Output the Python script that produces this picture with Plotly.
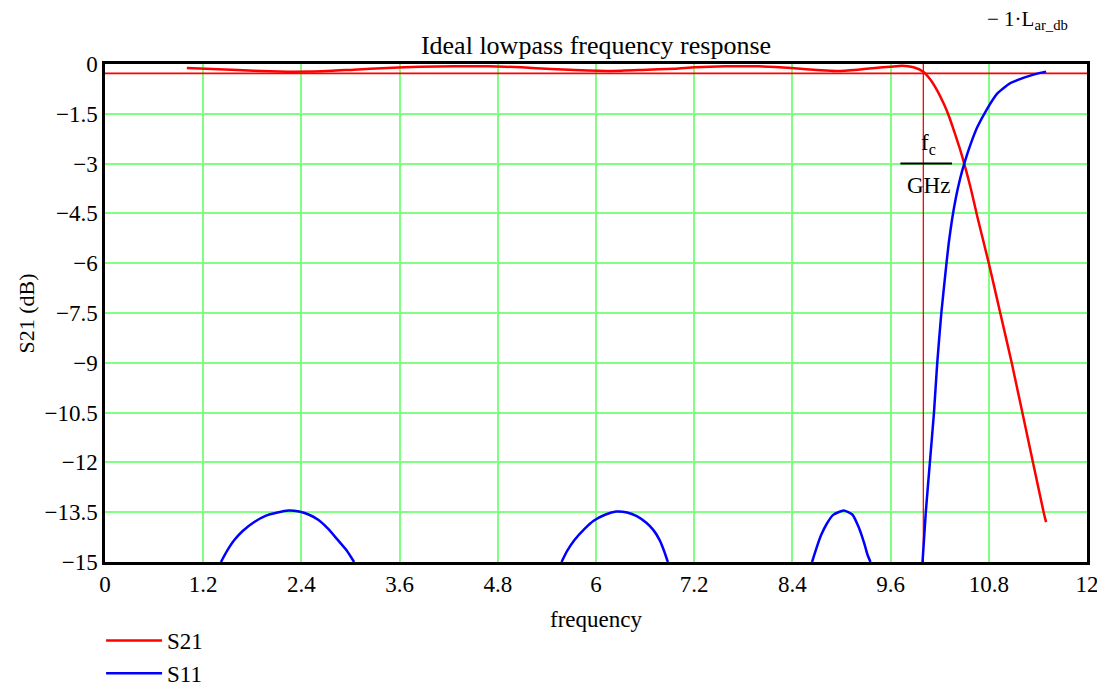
import plotly.graph_objects as go

# ---------------- data ----------------
fc_GHz = 10.0
L_ar_db = 0.28

s21_freq = [1.0, 1.62, 2.02, 2.23, 2.64, 3.04, 3.45, 3.86, 4.27, 4.68, 5.09, 5.45,
            5.74, 6.2, 6.56, 6.97, 7.21, 7.58, 7.98, 8.39, 8.75, 8.95, 9.2, 9.41,
            9.6, 9.74, 9.88, 10.0, 10.09, 10.17, 10.25, 10.31, 10.38, 10.44, 10.50,
            10.58, 10.66, 10.8, 10.94, 11.08, 11.21, 11.34, 11.47, 11.5]
s21_db = [-0.12, -0.18, -0.22, -0.23, -0.22, -0.17, -0.12, -0.08, -0.07, -0.07, -0.10, -0.15,
          -0.18, -0.21, -0.18, -0.14, -0.10, -0.07, -0.07, -0.12, -0.19, -0.21, -0.17, -0.12,
          -0.08, -0.05, -0.10, -0.23, -0.48, -0.80, -1.20, -1.55, -2.05, -2.50, -3.0,
          -3.75, -4.6, -6.0, -7.5, -9.0, -10.5, -12.0, -13.5, -13.8]

s11_freq = [1.417, 1.493, 1.580, 1.686, 1.815, 1.961, 2.107, 2.242, 2.371, 2.488, 2.605, 2.722, 2.839, 2.956, 3.044,
            None,
            5.579, 5.649, 5.737, 5.854, 5.971, 6.117, 6.246, 6.380, 6.498, 6.615, 6.702, 6.778, 6.831, 6.878,
            None,
            8.640, 8.693, 8.751, 8.822, 8.898, 9.027, 9.132, 9.208, 9.278, 9.319, 9.354,
            None,
            9.99, 10.03, 10.08, 10.13, 10.17, 10.22, 10.27, 10.31, 10.35, 10.40, 10.45, 10.50, 10.58,
            10.66, 10.78, 10.90, 11.06, 11.23, 11.39, 11.50]
s11_db = [-15.0, -14.66, -14.34, -14.06, -13.81, -13.61, -13.51, -13.45, -13.48, -13.57, -13.73, -13.99, -14.32, -14.66, -15.0,
          None,
          -15.0, -14.66, -14.34, -14.02, -13.76, -13.57, -13.48, -13.51, -13.62, -13.82, -14.04, -14.34, -14.66, -15.0,
          None,
          -15.0, -14.59, -14.19, -13.84, -13.58, -13.45, -13.57, -13.94, -14.44, -14.79, -15.0,
          None,
          -15.0, -13.5, -12.0, -10.5, -9.0, -7.5, -6.3, -5.4, -4.7, -4.0, -3.45, -3.0, -2.4,
          -1.9, -1.35, -0.9, -0.58, -0.41, -0.29, -0.23]

x_range = [0, 12]
y_range = [-15, 0]
x_ticks = [0, 1.2, 2.4, 3.6, 4.8, 6, 7.2, 8.4, 9.6, 10.8, 12]
x_ticklabels = ["0", "1.2", "2.4", "3.6", "4.8", "6", "7.2", "8.4", "9.6", "10.8", "12"]
y_ticks = [0, -1.5, -3, -4.5, -6, -7.5, -9, -10.5, -12, -13.5, -15]
y_ticklabels = ["0", "\u22121.5", "\u22123", "\u22124.5", "\u22126", "\u22127.5", "\u22129",
                "\u221210.5", "\u221212", "\u221213.5", "\u221215"]

# ---------------- figure ----------------
FONT = "Liberation Serif, Times New Roman, serif"
RED = "#ff0000"
BLUE = "#0000ff"
GRID = "#80ff80"
TICK_SIZE = 23

# the page body has an 8 px default margin; figure is sized so it fits the 1105x689 window
W, H = 1097, 681

fig = go.Figure()

# reference lines: -L_ar_db and fc
fig.add_trace(go.Scatter(x=x_range, y=[-L_ar_db, -L_ar_db], mode="lines",
                         line=dict(color=RED, width=1.8), showlegend=False, hoverinfo="skip"))
fig.add_trace(go.Scatter(x=[fc_GHz, fc_GHz], y=y_range, mode="lines",
                         line=dict(color=RED, width=1.3), showlegend=False, hoverinfo="skip"))

fig.add_trace(go.Scatter(x=s21_freq, y=s21_db, mode="lines", name="S21",
                         line=dict(color=RED, width=2.5, shape="spline", smoothing=0.5)))
fig.add_trace(go.Scatter(x=s11_freq, y=s11_db, mode="lines", name="S11",
                         line=dict(color=BLUE, width=2.5, shape="spline", smoothing=0.5),
                         connectgaps=False))

fig.update_xaxes(range=x_range, tickmode="array", tickvals=x_ticks, ticktext=x_ticklabels,
                 showgrid=True, gridcolor=GRID, gridwidth=1.5, zeroline=False,
                 showline=True, linecolor="black", linewidth=2.5, mirror=True, automargin=False,
                 ticks="", tickfont=dict(size=TICK_SIZE, color="black", family=FONT))
fig.update_yaxes(range=y_range, tickmode="array", tickvals=y_ticks, ticktext=y_ticklabels,
                 showgrid=True, gridcolor=GRID, gridwidth=1.5, zeroline=False,
                 showline=True, linecolor="black", linewidth=2.5, mirror=True, automargin=False,
                 ticks="", tickfont=dict(size=TICK_SIZE, color="black", family=FONT))

# axis titles
fig.add_annotation(x=0.5, y=-0.1145, xref="paper", yref="paper", xanchor="center", yanchor="middle",
                   text="frequency", showarrow=False,
                   font=dict(size=23, color="black", family=FONT))
fig.add_annotation(x=-0.08, y=0.5, xref="paper", yref="paper", xanchor="center", yanchor="middle",
                   text="S21 (dB)", textangle=-90, showarrow=False,
                   font=dict(size=22, color="black", family=FONT))

# fc / GHz fraction label
fig.add_annotation(x=10.06, y=-2.4, xref="x", yref="y", text="f<sub>c</sub>", showarrow=False,
                   font=dict(size=23, color="black", family=FONT))
fig.add_annotation(x=10.06, y=-3.65, xref="x", yref="y", text="GHz", showarrow=False,
                   font=dict(size=23, color="black", family=FONT))
fig.add_shape(type="line", x0=9.72, x1=10.35, y0=-3, y1=-3, xref="x", yref="y",
              line=dict(color="black", width=2))

# top-right expression label
fig.add_annotation(x=0.9827, y=1.088, xref="paper", yref="paper", xanchor="right", yanchor="middle",
                   text="\u2212 1\u00b7L<sub>ar_db</sub>", showarrow=False,
                   font=dict(size=21, color="black", family=FONT))

fig.update_layout(
    width=W, height=H,
    margin=dict(l=97, r=18, t=56, b=127),
    paper_bgcolor="white", plot_bgcolor="white",
    title=dict(text="Ideal lowpass frequency response", x=0.5, xref="paper", xanchor="center",
               y=1 - 37 / H, yref="container", yanchor="middle",
               font=dict(size=26, color="black", family=FONT)),
    font=dict(family=FONT, color="black", size=22),
    legend=dict(x=-0.004, y=1 - 611 / H, xref="paper", yref="container",
                xanchor="left", yanchor="top", orientation="v",
                font=dict(size=23, color="black", family=FONT), itemwidth=56,
                bgcolor="rgba(0,0,0,0)", tracegroupgap=0),
    showlegend=True,
)

fig.write_html("out.html")
